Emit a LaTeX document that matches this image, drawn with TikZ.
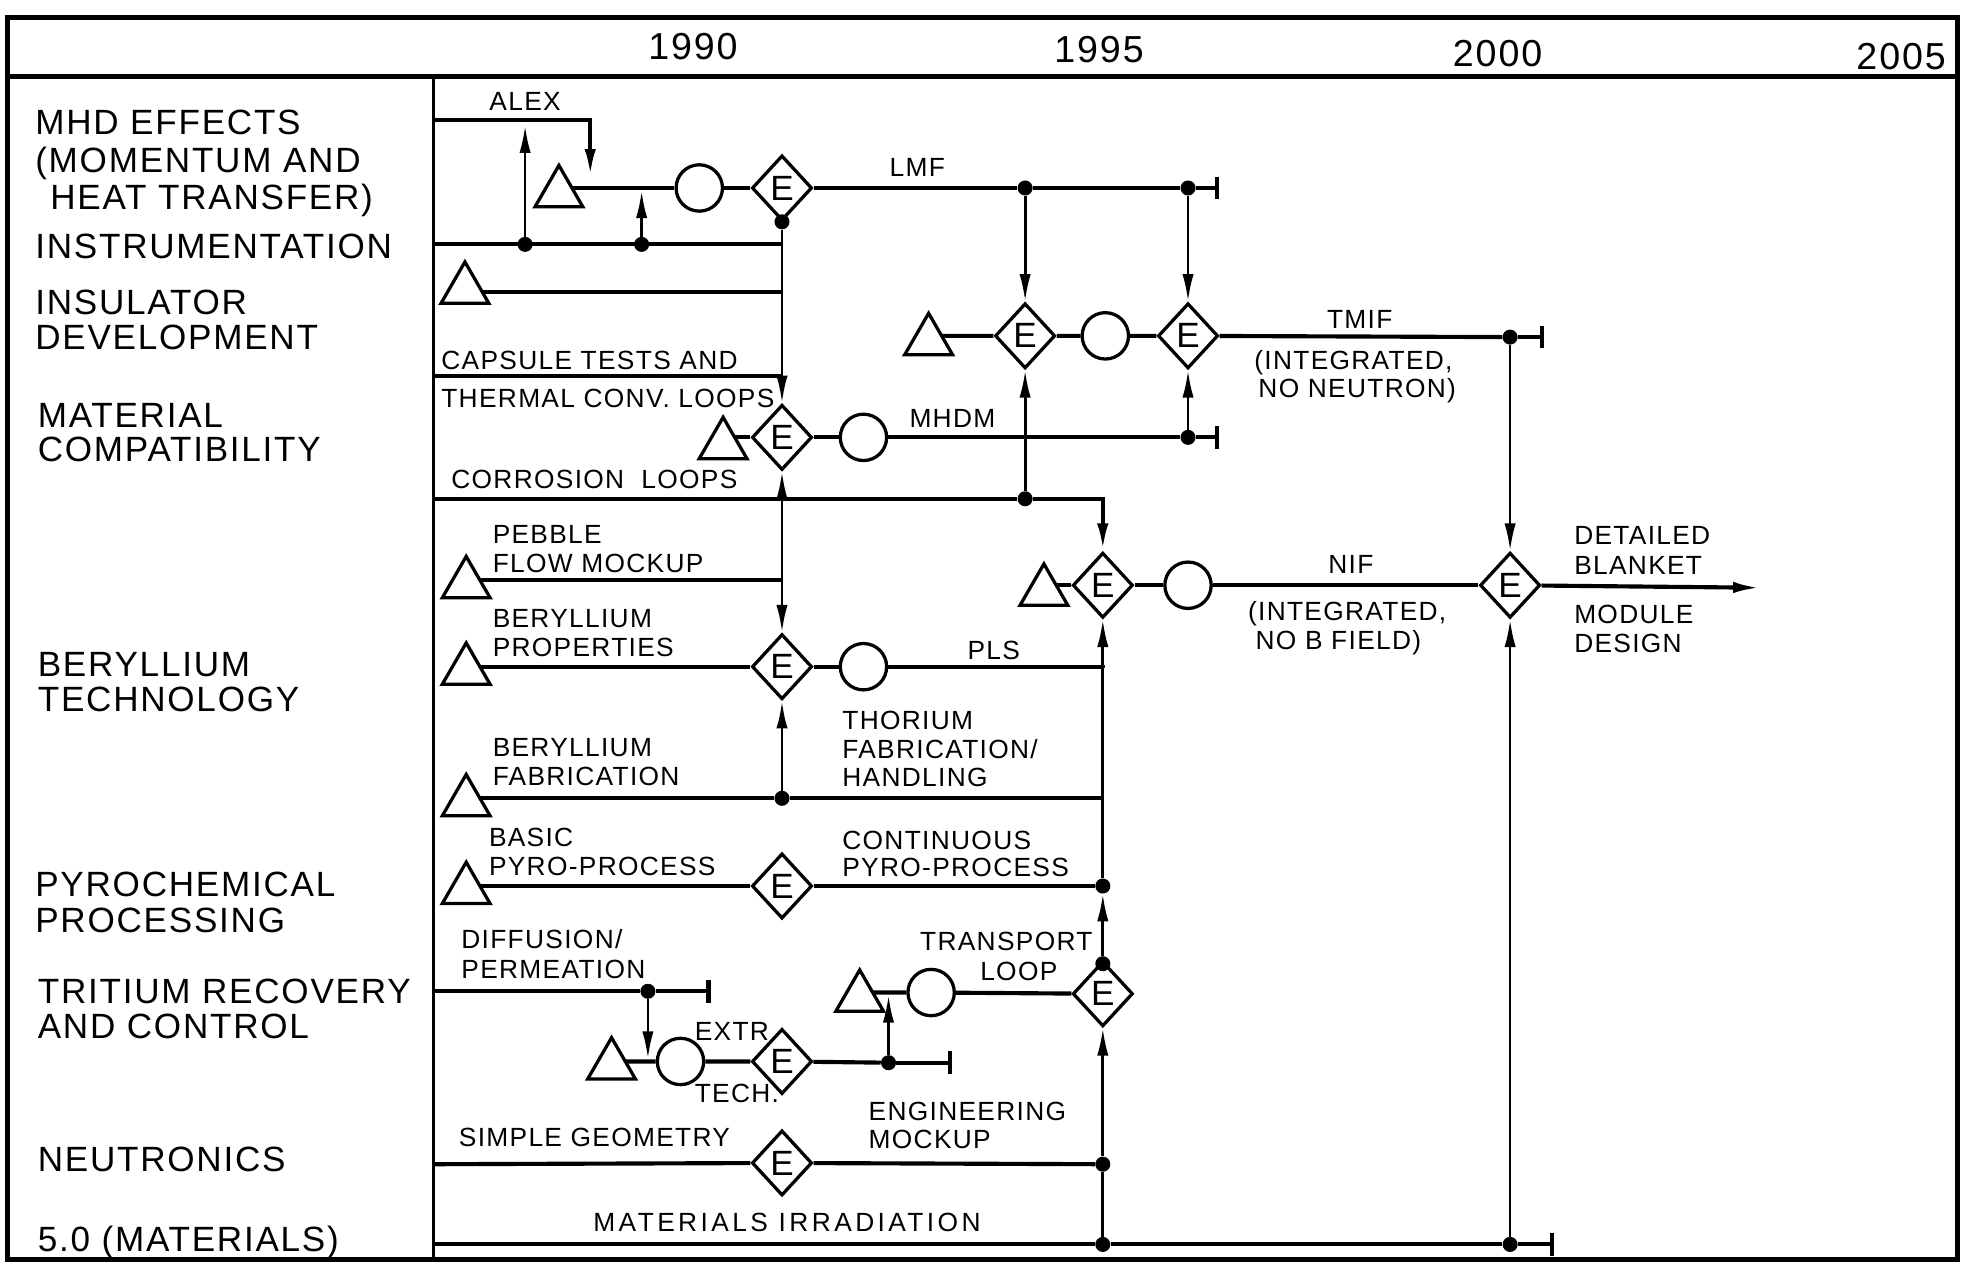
\documentclass[tikz,border=0pt]{standalone}
\usepackage{fontspec}
\setmainfont{Liberation Sans}[LetterSpace=5]
\usetikzlibrary{shapes.geometric,arrows.meta}
\pgfdeclarelayer{bg}
\pgfsetlayers{bg,main}
\begin{document}
\begin{tikzpicture}[x=1pt,y=-1pt,
  flow/.style={line width=3.3pt},
  conn/.style={line width=2.2pt},
  arr/.style={-{Latex[length=22pt,width=9pt]}},
  darr/.style={{Latex[length=22pt,width=9pt]}-{Latex[length=22pt,width=9pt]}},
  tick/.style={-{Bar[width=18pt]}},
  shp/.style={draw,line width=2.6pt,fill=white,inner sep=0pt},
  tri/.style={shp,regular polygon,regular polygon sides=3,minimum size=44pt},
  dia/.style={shp,diamond,minimum width=48pt,minimum height=52pt,font=\fontsize{28}{28}\selectfont},
  circ/.style={shp,circle,minimum size=37pt},
  dot/.style={circle,fill,inner sep=0pt,minimum size=12pt},
  lab/.style={inner sep=0pt,text height=15pt,text depth=0pt,font=\fontsize{21}{21}\selectfont},
  big/.style={inner sep=0pt,text height=20pt,text depth=0pt,font=\fontsize{28}{28}\selectfont},
  yr/.style={inner sep=0pt,text height=21.5pt,text depth=0pt,font=\fontsize{30}{30}\selectfont},
  frame/.style={line width=3.5pt}
]
\useasboundingbox (0,0) rectangle (1568,1011);
% frame
\draw[frame] (6,14) rectangle (1562,1005);
\draw[frame] (6,61) -- (1562,61);
\draw[line width=2.8pt] (346,61) -- (346,1005);
% years
\node[yr] (y1990) at (553,37) {1990};
\node[yr] (y1995) at (877,39) {1995};
\node[yr] (y2000) at (1195,42) {2000};
\node[yr] (y2005) at (1517,45) {2005};
% left labels
\node[big,anchor=west] (L1) at (28,97) {MHD EFFECTS};
\node[big,anchor=west] (L2) at (28,128) {(MOMENTUM AND};
\node[big,anchor=west] (L3) at (40,157) {HEAT TRANSFER)};
\node[big,anchor=west] (L4) at (28,196) {INSTRUMENTATION};
\node[big,anchor=west] (L5) at (28,241) {INSULATOR};
\node[big,anchor=west] (L6) at (28,269) {DEVELOPMENT};
\node[big,anchor=west] (L7) at (30,331) {MATERIAL};
\node[big,anchor=west] (L8) at (30,358) {COMPATIBILITY};
\node[big,anchor=west] (L9) at (30,530) {BERYLLIUM};
\node[big,anchor=west] (L10) at (30,558) {TECHNOLOGY};
\node[big,anchor=west] (L11) at (28,705) {PYROCHEMICAL};
\node[big,anchor=west] (L12) at (28,734) {PROCESSING};
\node[big,anchor=west] (L13) at (30,791) {TRITIUM RECOVERY};
\node[big,anchor=west] (L14) at (30,819) {AND CONTROL};
\node[big,anchor=west] (L15) at (30,925) {NEUTRONICS};
\node[big,anchor=west] (L16) at (30,989) {5.0 (MATERIALS)};
% free-end coordinates
\coordinate (sA) at (346,96);
\coordinate (aT) at (471,141);
\coordinate (sI) at (346,195);
\coordinate (jI) at (624,195);
\coordinate (aI1) at (419,100);
\coordinate (aI2) at (512,152);
\coordinate (jIns) at (624,233);
\coordinate (sC) at (346,300);
\coordinate (jC) at (624,300);
\coordinate (lmfEnd) at (973,150);
\coordinate (mhdmEnd) at (973,349);
\coordinate (tmifEnd) at (1232,269);
\coordinate (sCor) at (346,398);
\coordinate (jPeb) at (624,463);
\coordinate (jPLS) at (880,533);
\coordinate (jBF) at (880,637);
\coordinate (outA) at (1405,469);
\coordinate (sD) at (346,791);
\coordinate (dEnd) at (567,791);
\coordinate (aD) at (517,845);
\coordinate (xEnd) at (760,848);
\coordinate (aX) at (709,794);
\coordinate (sN) at (346,929);
\coordinate (sM) at (346,993);
\coordinate (mEnd) at (1240,993);
% shapes
\node[tri] (T1) at (446,154) {};
\node[circ] (C1) at (558,150) {};
\node[dia] (E1) at (624,150) {E};
\node[tri] (Tins) at (371,231) {};
\node[tri] (T2) at (577,355) {};
\node[dia] (E2) at (624,349) {E};
\node[circ] (C2) at (689,349) {};
\node[tri] (T3) at (741,272) {};
\node[dia] (Ea) at (818,268) {E};
\node[circ] (C3) at (882,268) {};
\node[dia] (Eb) at (948,268) {E};
\node[tri] (T4) at (833,472) {};
\node[dia] (E5) at (880,467) {E};
\node[circ] (C4) at (948,467) {};
\node[dia] (E6) at (1205,467) {E};
\node[tri] (Tpeb) at (372,466) {};
\node[tri] (Tbp) at (372,535) {};
\node[dia] (E3) at (624,532) {E};
\node[circ] (C5) at (689,532) {};
\node[tri] (Tbf) at (372,640) {};
\node[tri] (Tpy) at (372,710) {};
\node[dia] (E7) at (624,707) {E};
\node[tri] (T9) at (488,850) {};
\node[circ] (C6) at (543,847) {};
\node[dia] (E9) at (624,847) {E};
\node[tri] (T10) at (686,796) {};
\node[circ] (C7) at (743,792) {};
\node[dia] (E8) at (880,793) {E};
\node[dia] (E10) at (624,928) {E};
% dots
\node[dot] (dI1) at (419,195) {};
\node[dot] (dI2) at (512,195) {};
\node[dot] (dE1) at (624,177) {};
\node[dot] (dL1) at (818,150) {};
\node[dot] (dL2) at (948,150) {};
\node[dot] (dM) at (948,349) {};
\node[dot] (dT) at (1205,269) {};
\node[dot] (dCor) at (818,398) {};
\node[dot] (dBF) at (624,637) {};
\node[dot] (dP) at (880,707) {};
\node[dot] (dE8) at (880,769) {};
\node[dot] (dN) at (880,929) {};
\node[dot] (dM1) at (880,993) {};
\node[dot] (dM2) at (1205,993) {};
\node[dot] (dD) at (517,791) {};
\node[dot] (dX) at (709,848) {};
% labels
\node[lab] (nALEX) at (419,81) {ALEX};
\node[lab] (nLMF) at (732,133) {LMF};
\node[lab,anchor=west] (nCap1) at (352,287) {CAPSULE TESTS AND};
\node[lab,anchor=west] (nCap2) at (352,318) {THERMAL CONV. LOOPS};
\node[lab] (nMHDM) at (760,334) {MHDM};
\node[lab] (nTMIF) at (1085,255) {TMIF};
\node[lab] (nT1) at (1080,287) {(INTEGRATED,};
\node[lab] (nT2) at (1083,310) {NO NEUTRON)};
\node[lab,anchor=west] (nCor) at (360,382) {CORROSION\ \ LOOPS};
\node[lab,anchor=west] (nPeb1) at (393,426) {PEBBLE};
\node[lab,anchor=west] (nPeb2) at (393,449) {FLOW MOCKUP};
\node[lab] (nNIF) at (1078,450) {NIF};
\node[lab] (nN1) at (1075,488) {(INTEGRATED,};
\node[lab] (nN2) at (1068,511) {NO B FIELD)};
\node[lab,anchor=west] (nD1) at (1256,427) {DETAILED};
\node[lab,anchor=west] (nD2) at (1256,451) {BLANKET};
\node[lab,anchor=west] (nD3) at (1256,490) {MODULE};
\node[lab,anchor=west] (nD4) at (1256,513) {DESIGN};
\node[lab,anchor=west] (nBp1) at (393,493) {BERYLLIUM};
\node[lab,anchor=west] (nBp2) at (393,516) {PROPERTIES};
\node[lab] (nPLS) at (793,519) {PLS};
\node[lab,anchor=west] (nBf1) at (393,596) {BERYLLIUM};
\node[lab,anchor=west] (nBf2) at (393,619) {FABRICATION};
\node[lab,anchor=west] (nTh1) at (672,575) {THORIUM};
\node[lab,anchor=west] (nTh2) at (672,598) {FABRICATION/};
\node[lab,anchor=west] (nTh3) at (672,620) {HANDLING};
\node[lab,anchor=west] (nBa1) at (390,668) {BASIC};
\node[lab,anchor=west] (nBa2) at (390,691) {PYRO-PROCESS};
\node[lab,anchor=west] (nCo1) at (672,670) {CONTINUOUS};
\node[lab,anchor=west] (nCo2) at (672,692) {PYRO-PROCESS};
\node[lab,anchor=west] (nDi1) at (368,749) {DIFFUSION/};
\node[lab,anchor=west] (nDi2) at (368,773) {PERMEATION};
\node[lab] (nEx1) at (584,823) {EXTR};
\node[lab] (nEx2) at (588,872) {TECH.};
\node[lab] (nTr1) at (803,751) {TRANSPORT};
\node[lab] (nTr2) at (813,775) {LOOP};
\node[lab,anchor=west] (nSG) at (366,907) {SIMPLE GEOMETRY};
\node[lab,anchor=west] (nEM1) at (693,887) {ENGINEERING};
\node[lab,anchor=west] (nEM2) at (693,909) {MOCKUP};
\node[lab] (nMI) at (628,975) {\addfontfeature{LetterSpace=13}MATERIALS IRRADIATION};
% connectors
\begin{pgfonlayer}{bg}
% MHD / ALEX
\draw[flow,arr] (sA) -| (aT);
\draw[flow] (T1.center |- C1) -- (C1) -- (E1) -- (dL1) -- (dL2);
\draw[flow,tick] (dL2) -- (lmfEnd);
\draw[flow] (sI) -- (jI);
\draw[conn,arr] (dI1) -- (aI1);
\draw[conn,arr] (dI2) -- (aI2);
\draw[flow] (Tins.center |- jIns) -- (jIns);
\draw[flow] (sC) -- (jC);
\draw[conn] (E1) -- (dE1);
\draw[conn,arr] (dE1) -- (E2);
% MHDM
\draw[flow] (T2.center |- E2) -- (E2) -- (C2) -- (dM);
\draw[flow,tick] (dM) -- (mhdmEnd);
\draw[conn,darr] (E2) -- (E3);
% TMIF
\draw[flow] (T3.center |- Ea) -- (Ea) -- (C3) -- (Eb) -- (dT);
\draw[flow,tick] (dT) -- (tmifEnd);
\draw[conn,arr] (dL1) -- (Ea);
\draw[conn,arr] (dL2) -- (Eb);
\draw[conn,arr] (dCor) -- (Ea);
\draw[conn,arr] (dM) -- (Eb);
\draw[conn,arr] (dT) -- (E6);
% corrosion
\draw[flow] (sCor) -- (dCor);
\draw[flow,arr] (dCor) -| (E5);
% NIF
\draw[flow] (T4.center |- E5) -- (E5) -- (C4) -- (E6);
\draw[flow,arr] (E6) -- (outA);
\draw[conn,arr] (dM2) -- (E6);
% beryllium
\draw[flow] (Tpeb.center |- jPeb) -- (jPeb);
\draw[flow] (Tbp.center |- E3) -- (E3) -- (C5) -- (C5 -| jPLS) -- (jPLS);
\draw[flow] (Tbf.center |- dBF) -- (dBF) -- (jBF);
\draw[conn,arr] (dBF) -- (E3);
% pyro
\draw[flow] (Tpy.center |- E7) -- (E7) -- (dP);
\draw[conn,arr] (dP) -- (E5);
\draw[conn,arr] (dE8) -- (dP);
\draw[conn] (E8) -- (dE8);
\draw[conn,arr] (dN) -- (E8);
\draw[conn] (dM1) -- (dN);
% tritium
\draw[flow] (sD) -- (dD);
\draw[flow,tick] (dD) -- (dEnd);
\draw[conn,arr] (dD) -- (aD);
\draw[flow] (T9.center |- C6) -- (C6) -- (E9) -- (dX);
\draw[flow,tick] (dX) -- (xEnd);
\draw[conn,arr] (dX) -- (aX);
\draw[flow] (T10.center |- C7) -- (C7) -- (E8);
% neutronics
\draw[flow] (sN) -- (E10) -- (dN);
% materials
\draw[flow] (sM) -- (dM1) -- (dM2);
\draw[flow,tick] (dM2) -- (mEnd);
\end{pgfonlayer}
\end{tikzpicture}
\end{document}
